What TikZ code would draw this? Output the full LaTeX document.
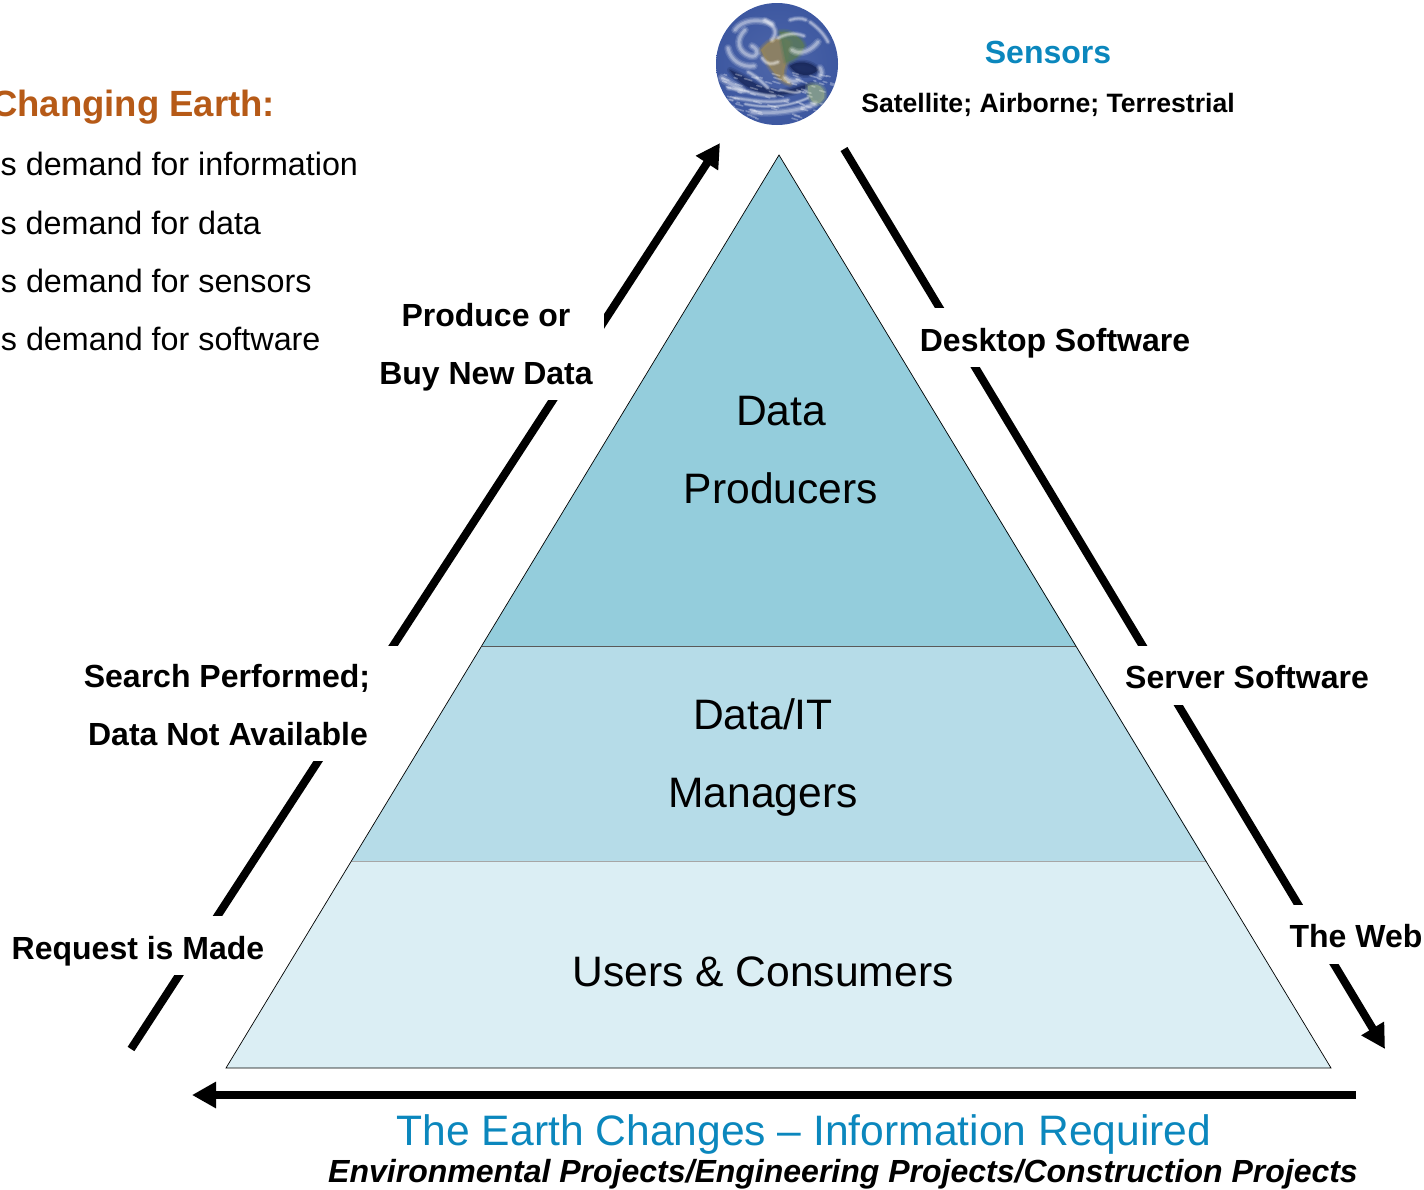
\documentclass[tikz,border=0pt]{standalone}
\usepackage{fontspec}
\setmainfont{Liberation Sans}
\usetikzlibrary{arrows.meta}
\definecolor{topc}{HTML}{94CDDC}
\definecolor{midc}{HTML}{B6DCE8}
\definecolor{lowc}{HTML}{DBEEF4}
\definecolor{bluec}{HTML}{0B87BD}
\definecolor{brownc}{HTML}{B65A17}
\definecolor{oceanc}{HTML}{3A559F}
\definecolor{deepc}{HTML}{101C48}
\definecolor{landc}{HTML}{97865A}
\definecolor{greenc}{HTML}{5A7A5A}
\pgfdeclareradialshading{globeshade}{\pgfpointorigin}{color(0bp)=(oceanc!90!white);color(30bp)=(oceanc);color(45bp)=(oceanc!80!black);color(50bp)=(deepc)}
\newcommand{\softshape}[2]{%
  \path[fill=#1,draw=#1,opacity=0.25,line width=6pt,line join=round] #2;
  \path[fill=#1,draw=#1,opacity=0.35,line width=3pt,line join=round] #2;
  \path[fill=#1,opacity=0.7] #2;}
\newcommand{\wisp}[2]{%
  \draw[white,line cap=round,opacity=0.14,line width=#1*2.6pt] #2;
  \draw[white,line cap=round,opacity=0.2,line width=#1*1.7pt] #2;
  \draw[white,line cap=round,opacity=0.28,line width=#1*0.9pt] #2;}
\tikzset{
  every node/.style={inner sep=0pt,outer sep=0pt},
  layer/.style={draw=black!65,line width=0.6pt},
  edgeline/.style={draw=black,line width=0.7pt},
  flow/.style={draw=black,line width=8pt},
  flowtip/.style={flow,-{Triangle[length=24pt,width=25pt]}},
  mask/.style={fill=white},
  big/.style={font=\fontsize{42.6}{43}\selectfont,anchor=base},
  lab/.style={font=\fontsize{32}{32}\selectfont\bfseries,anchor=base},
  small/.style={font=\fontsize{26.6}{27}\selectfont\bfseries,anchor=base},
  plain/.style={font=\fontsize{32.3}{32}\selectfont,anchor=base east},
}
\begin{document}
\begin{tikzpicture}[x=1pt,y=-1pt]
\useasboundingbox (0,0) rectangle (1424,1189);
\clip (0,0) rectangle (1424,1189);
% pyramid
\coordinate (apex) at (779,155);
\coordinate (tl) at (481.6,646);
\coordinate (tr) at (1076.4,646);
\coordinate (ml) at (351.4,861);
\coordinate (mr) at (1206.6,861);
\coordinate (bl) at (226,1068);
\coordinate (br) at (1331,1068);
\fill[lowc] (ml) -- (mr) -- (br) -- (bl) -- cycle;
\fill[midc] (tl) -- (tr) -- (mr) -- (ml) -- cycle;
\fill[topc] (apex) -- (tr) -- (tl) -- cycle;
\draw[layer] (tl) -- (tr);
\draw[layer,draw=black!35] (ml) -- (mr);
\draw[edgeline,line join=miter] (apex) -- (br) -- (bl) -- cycle;
% globe
\begin{scope}
\clip (777,64) circle (61);
\shade[shading=globeshade] (777,64) circle (61);
% dark ocean patches
\softshape{deepc!70!oceanc}{(730,70) .. controls (745,76) and (760,90) .. (780,92) .. controls (790,90) and (800,86) .. (812,84) .. controls (790,100) and (750,100) .. (730,70) -- cycle}
\softshape{deepc!80!oceanc}{(790,66) .. controls (798,60) and (812,62) .. (818,70) .. controls (810,78) and (796,76) .. (790,66) -- cycle}
% land
\softshape{landc}{(761,50) .. controls (770,38) and (782,36) .. (790,42) .. controls (790,52) and (786,62) .. (784,70) .. controls (782,76) and (786,80) .. (790,84) .. controls (780,82) and (770,70) .. (761,50) -- cycle}
\softshape{greenc}{(780,32) .. controls (790,30) and (802,38) .. (804,46) .. controls (800,56) and (794,60) .. (786,62) .. controls (784,52) and (782,42) .. (780,32) -- cycle}
\softshape{greenc!70!white}{(808,86) .. controls (818,82) and (826,88) .. (824,98) .. controls (818,108) and (808,104) .. (808,86) -- cycle}
% clouds
\wisp{3}{(735,30) .. controls (742,20) and (758,18) .. (772,24)}
\wisp{3}{(745,30) .. controls (735,40) and (738,52) .. (750,56) .. controls (758,58) and (760,50) .. (752,46)}
\wisp{3}{(728,48) .. controls (730,60) and (742,68) .. (754,66)}
\wisp{2.5}{(765,20) .. controls (775,26) and (778,32) .. (772,40)}
\wisp{3}{(792,50) .. controls (800,56) and (812,50) .. (818,42)}
\wisp{2}{(778,38) .. controls (786,34) and (794,32) .. (804,36)}
\wisp{2}{(762,58) .. controls (768,66) and (772,64) .. (778,62)}
\wisp{3.5}{(722,78) .. controls (730,84) and (736,86) .. (742,90)}
\wisp{2}{(728,88) .. controls (745,90) and (760,96) .. (775,96)}
\wisp{2}{(735,98) .. controls (750,100) and (770,104) .. (788,100)}
\wisp{3}{(752,112) .. controls (770,114) and (795,112) .. (815,104)}
\wisp{1.5}{(745,104) .. controls (765,108) and (785,108) .. (808,98)}
\wisp{3}{(785,78) .. controls (790,82) and (795,82) .. (798,80)}
\wisp{3}{(820,68) .. controls (822,72) and (822,74) .. (820,76)}
\wisp{2}{(748,72) .. controls (756,76) and (762,82) .. (768,88)}
\wisp{1.5}{(800,92) .. controls (792,94) and (786,90) .. (780,90)}
\wisp{2}{(810,22) .. controls (818,28) and (824,34) .. (828,42)}
\wisp{2}{(790,20) .. controls (796,18) and (802,18) .. (806,20)}
\pgfmathsetseed{7}
\foreach \k in {1,...,90}{
  \pgfmathsetmacro{\px}{722+rnd*110}
  \pgfmathsetmacro{\py}{72+rnd*48}
  \pgfmathsetmacro{\ln}{2+rnd*6}
  \draw[white,opacity=0.3,line width=1.6pt,line cap=round] (\px,\py) -- ++(\ln,0.3*\ln);
}
\end{scope}
% flows: one line each, the labels' white boxes interrupt them
\coordinate (a1) at (131,1049);
\coordinate (a8) at (720,143);
\coordinate (b1) at (844,149);
\coordinate (b8) at (1385,1049);
\coordinate (c1) at (1356,1095);
\coordinate (c2) at (192,1095);
\draw[flowtip] (a1) -- (a8);
\draw[flowtip] (b1) -- (b8);
\draw[flowtip] (c1) -- (c2);
\fill[mask] (10,916) rectangle (270,975);
\fill[mask] (80,646) rectangle (402,761);
\fill[mask] (375,290) rectangle (604,400);
\fill[mask] (915,308) rectangle (1195,367);
\fill[mask] (1122,646) rectangle (1372,705);
\fill[mask] (1285,905) rectangle (1424,964);
% layer labels
\node[big] (n1) at (781,425) {Data};
\node[big] (n2) at (781,503) {Producers};
\node[big] (n3) at (763,729) {Data/IT};
\node[big] (n4) at (763,807) {Managers};
\node[big] (n5) at (763,986) {Users \& Consumers};
% flow labels
\node[lab] (l1) at (486,326) {Produce or};
\node[lab] (l2) at (486,384) {Buy New Data};
\node[lab] (l3) at (227,687) {Search Performed;};
\node[lab] (l4) at (228,745) {Data Not Available};
\node[lab] (l5) at (138,959) {Request is Made};
\node[lab] (r1) at (1055,351) {Desktop Software};
\node[lab] (r2) at (1247,688) {Server Software};
\node[lab] (r3) at (1356,947) {The Web};
% sensors
\node[lab,text=bluec] (s1) at (1048,63) {Sensors};
\node[small] (s2) at (1048,112) {Satellite; Airborne; Terrestrial};
% left panel
\node[font=\fontsize{36.5}{37}\selectfont\bfseries,text=brownc,anchor=base east] (h1) at (275,116) {Changing Earth:};
\node[plain] (t1) at (358,175) {s demand for information};
\node[plain] (t2) at (261,234) {s demand for data};
\node[plain] (t3) at (311.5,292) {s demand for sensors};
\node[plain] (t4) at (320.5,350) {s demand for software};
% bottom
\node[font=\fontsize{42.6}{43}\selectfont,text=bluec,anchor=base] (e1) at (804,1145) {The Earth Changes – Information Required};
\node[font=\fontsize{32}{32}\selectfont\bfseries\itshape,anchor=base] (e2) at (843,1182) {Environmental Projects/Engineering Projects/Construction Projects};
\end{tikzpicture}
\end{document}
